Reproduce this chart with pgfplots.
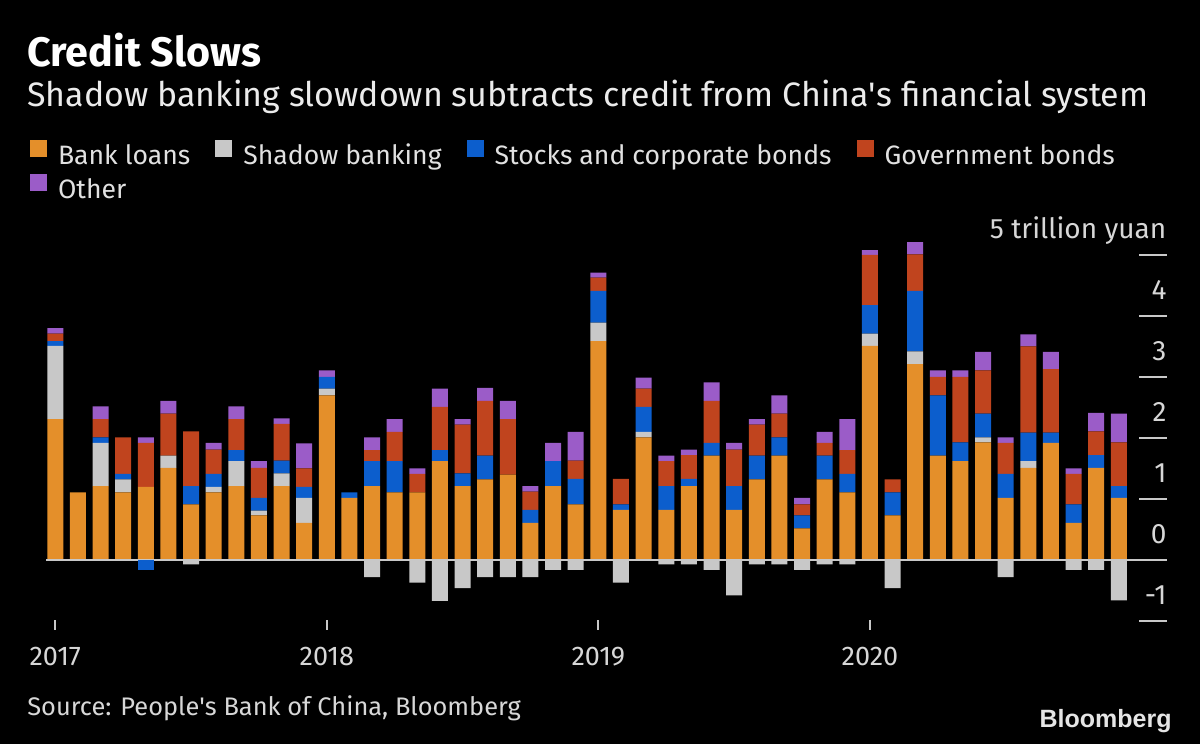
\documentclass[border=0pt]{standalone}
\usepackage{pgfplots}
\pgfplotsset{compat=1.18}
\usepackage{pgfplotstable}
\usepackage{fontspec}
\setmainfont{Fira Sans}
\newfontfamily\logofont{Liberation Sans}

\definecolor{cloan}{RGB}{228,143,42}
\definecolor{cshadow}{RGB}{200,200,200}
\definecolor{cstock}{RGB}{12,94,205}
\definecolor{cgov}{RGB}{192,68,30}
\definecolor{cother}{RGB}{155,92,200}
\definecolor{ctxt}{RGB}{225,225,225}
\definecolor{ctick}{RGB}{215,215,215}

% monthly flows, trillion yuan; negatives split into separate columns
\pgfplotstableread{
x  loans shadow stocks gov  other shadowneg stocksneg
0  2.31  1.20   0.08   0.12 0.09  0     0
1  1.11  0      0      0    0     0     0
2  1.21  0.71   0.09   0.30 0.21  0     0
3  1.11  0.21   0.09   0.60 0     0     0
4  1.20  0      0      0.72 0.09  0     -0.16
5  1.51  0.20   0      0.69 0.21  0     0
6  0.91  0      0.30   0.90 0     -0.07 0
7  1.11  0.09   0.21   0.40 0.11  0     0
8  1.21  0.41   0.18   0.51 0.21  0     0
9  0.73  0.08   0.21   0.49 0.11  0     0
10 1.21  0.21   0.21   0.60 0.09  0     0
11 0.61  0.41   0.18   0.30 0.41  0     0
12 2.70  0.11   0.19   0    0.11  0     0
13 1.02  0      0.09   0    0     0     0
14 1.21  0      0.41   0.18 0.21  -0.28 0
15 1.11  0      0.51   0.48 0.21  0     0
16 1.11  0      0      0.30 0.09  -0.37 0
17 1.62  0      0.18   0.71 0.30  -0.67 0
18 1.21  0      0.21   0.80 0.09  -0.46 0
19 1.32  0      0.39   0.90 0.21  -0.28 0
20 1.40  0      0      0.91 0.30  -0.28 0
21 0.61  0      0.21   0.30 0.09  -0.28 0
22 1.21  0      0.41   0    0.30  -0.16 0
23 0.91  0      0.42   0.30 0.47  -0.16 0
24 3.59  0.30   0.52   0.22 0.08  0     0
25 0.82  0      0.09   0.42 0     -0.37 0
26 2.01  0.09   0.41   0.30 0.18  0     0
27 0.82  0      0.39   0.41 0.09  -0.07 0
28 1.21  0      0.12   0.39 0.09  -0.07 0
29 1.71  0      0.21   0.69 0.30  -0.16 0
30 0.82  0      0.39   0.60 0.11  -0.58 0
31 1.32  0      0.39   0.51 0.09  -0.07 0
32 1.71  0      0.30   0.39 0.30  -0.07 0
33 0.52  0      0.21   0.18 0.11  -0.16 0
34 1.32  0      0.39   0.21 0.18  -0.07 0
35 1.11  0      0.30   0.39 0.51  -0.07 0
36 3.51  0.20   0.47   0.82 0.08  0     0
37 0.73  0      0.38   0.21 0     -0.46 0
38 3.21  0.21   0.99   0.60 0.21  0     0
39 1.71  0      0.99   0.30 0.11  0     0
40 1.62  0      0.31   1.07 0.11  0     0
41 1.93  0.08   0.39   0.71 0.30  0     0
42 1.02  0      0.39   0.51 0.09  -0.28 0
43 1.51  0.11   0.47   1.41 0.20  0     0
44 1.92  0      0.17   1.04 0.28  0     0
45 0.61  0      0.30   0.50 0.09  -0.16 0
46 1.51  0      0.21   0.39 0.30  -0.16 0
47 1.02  0      0.19   0.72 0.47  -0.66 0
}\credit

\pgfplotsset{creditaxis/.style={
  scale only axis, width=560.3pt, height=193.6pt,
  at={(23.1pt,57pt)}, anchor=south west,
  xmin=-0.4, xmax=49.12, ymin=-1.1475, ymax=5.2,
  ybar stacked, bar width=8pt,
}}

\begin{document}
\begin{tikzpicture}
\fill[black] (0,0) rectangle (600pt,372pt);
\useasboundingbox (0,0) rectangle (600pt,372pt);

\node[anchor=base west, inner sep=0pt, text=white, font=\fontsize{20.6}{23}\selectfont\bfseries] at (13.5pt,338.5pt) {Credit Slows};
\node[anchor=base west, inner sep=0pt, text=white!92!black, font=\fontsize{16.95}{20}\selectfont] at (13.5pt,318.5pt) {Shadow banking slowdown subtracts credit from China\textquotesingle s financial system};

\begin{axis}[creditaxis,
  axis x line*=bottom, axis y line*=right,
  axis line style={draw=none},
  tick align=inside,
  major tick length=14pt,
  xtick={0,12,24,36}, xticklabels={2017,2018,2019,2020},
  ytick={-1,0,1,2,3,4,5}, yticklabels={-1,0,1,2,3,4,5 trillion yuan},
  xtick style={/pgfplots/major tick length=5pt, color=cshadow, line width=1pt},
  ytick style={color=cshadow, line width=1pt},
  xticklabel style={anchor=north, inner sep=0pt, yshift=-8.5pt, font=\fontsize{13.5}{16}\selectfont, text=ctick},
  yticklabel style={anchor=base east, inner sep=0pt, yshift=8.4pt, font=\fontsize{14}{16}\selectfont, text=ctick},
  legend columns=4,
  legend cell align=left,
  legend image code/.code={\fill[#1] (0pt,-0.3pt) rectangle (8.5pt,8.2pt);},
  legend style={at={(-0.01445,1.2665)}, anchor=north west, draw=none, fill=none,
    inner sep=0pt, outer sep=0pt, text=ctxt, font=\fontsize{13.3}{16}\selectfont,
    row sep=3pt, nodes={inner sep=0pt},
    /tikz/every odd column/.append style={column sep=5.5pt},
    /tikz/every even column/.append style={column sep=12.5pt}},
]
\addplot[fill=cloan, draw=none] table[x=x,y=loans]{\credit};
\addplot[fill=cshadow, draw=none] table[x=x,y=shadow]{\credit};
\addplot[fill=cstock, draw=none] table[x=x,y=stocks]{\credit};
\addplot[fill=cgov, draw=none] table[x=x,y=gov]{\credit};
\addplot[fill=cother, draw=none] table[x=x,y=other]{\credit};
\legend{Bank loans, Shadow banking, Stocks and corporate bonds, Government bonds, Other}
\end{axis}

\begin{axis}[creditaxis, hide axis]
\addplot[fill=cshadow, draw=none] table[x=x,y=shadowneg]{\credit};
\addplot[fill=cstock, draw=none] table[x=x,y=stocksneg]{\credit};
\draw[color=cshadow, line width=1pt] (axis cs:-0.4,0) -- (axis cs:49.12,0);
\end{axis}

\node[anchor=base west, inner sep=0pt, text=ctick, font=\fontsize{12.7}{15}\selectfont] at (13.5pt,14pt) {Source: People\textquotesingle s Bank of China, Bloomberg};
\node[anchor=base east, inner sep=0pt, text=white!90!black, font=\logofont\fontsize{12.5}{14}\selectfont\bfseries] at (586pt,8pt) {Bloomberg};
\end{tikzpicture}
\end{document}
